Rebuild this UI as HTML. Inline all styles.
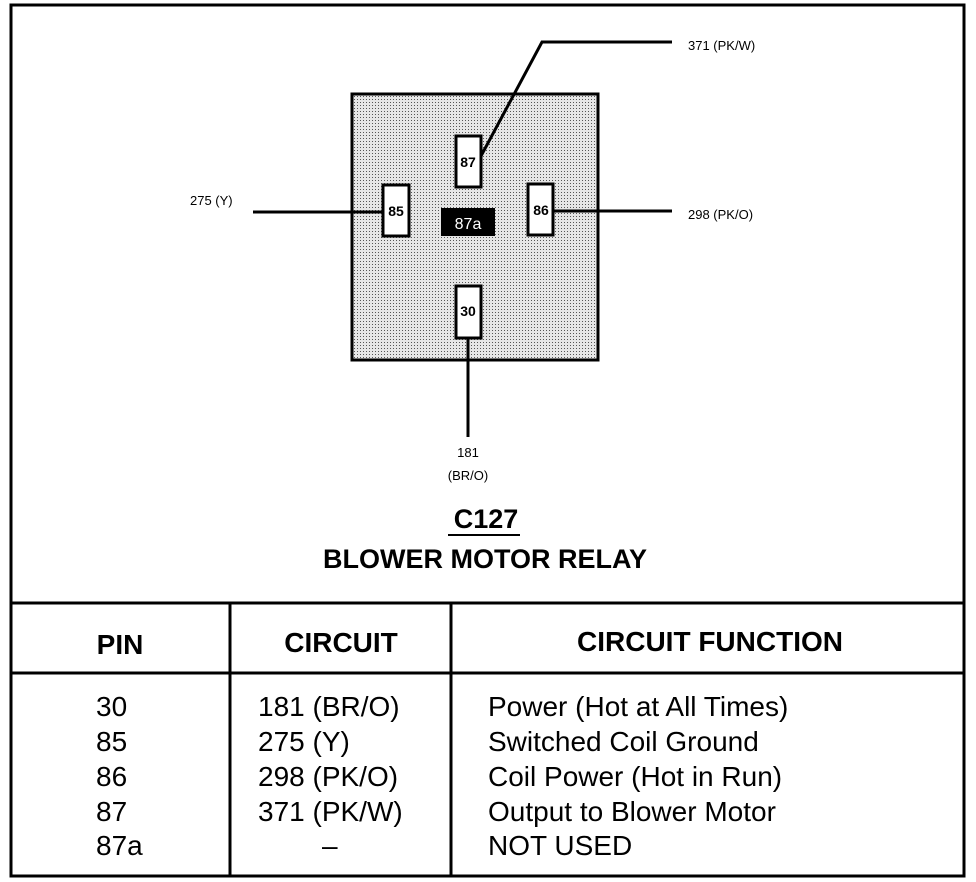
<!DOCTYPE html>
<html><head><style>body{margin:0;background:#fff}svg{display:block}</style></head>
<body>
<svg width="976" height="882" xmlns="http://www.w3.org/2000/svg" font-family="Liberation Sans, Arial, sans-serif">
<defs><pattern id="d" width="3" height="3" patternUnits="userSpaceOnUse"><rect width="3" height="3" fill="#e6e6e6"/><rect width="1" height="1" fill="#555"/></pattern></defs>
<rect x="11" y="5" width="953" height="871" fill="none" stroke="#000" stroke-width="3"/>
<rect x="352" y="94" width="246" height="266" fill="url(#d)" stroke="#000" stroke-width="3"/>
<g stroke="#000" stroke-width="3" fill="none">
<polyline points="481,156 542,42 672,42"/>
<line x1="253" y1="212" x2="382" y2="212"/>
<line x1="553" y1="211" x2="672" y2="211"/>
<line x1="468" y1="338" x2="468" y2="437"/>
</g>
<g fill="#fff" stroke="#000" stroke-width="3">
<rect x="456" y="136" width="25" height="51"/>
<rect x="383" y="185" width="26" height="51"/>
<rect x="528" y="184" width="25" height="51"/>
<rect x="456" y="286" width="25" height="52"/>
</g>
<rect x="441" y="208" width="54" height="28" fill="#000"/>
<g font-weight="bold" font-size="14" text-anchor="middle">
<text x="468" y="167">87</text><text x="396" y="216">85</text><text x="541" y="215">86</text><text x="468" y="316">30</text>
<text x="468" y="229" fill="#fff" font-weight="normal" font-size="16">87a</text>
</g>
<g font-size="13">
<text x="688" y="50">371 (PK/W)</text>
<text x="688" y="219">298 (PK/O)</text>
<text x="190" y="205">275 (Y)</text>
<text x="468" y="457" text-anchor="middle">181</text>
<text x="468" y="480" text-anchor="middle">(BR/O)</text>
</g>
<g font-weight="bold" text-anchor="middle">
<text x="486" y="528" font-size="27">C127</text>
<text x="485" y="568" font-size="27">BLOWER MOTOR RELAY</text>
</g>
<line x1="448" y1="535" x2="520" y2="535" stroke="#000" stroke-width="2"/>
<g stroke="#000" stroke-width="3">
<line x1="11" y1="603" x2="964" y2="603"/>
<line x1="11" y1="673" x2="964" y2="673"/>
<line x1="230" y1="603" x2="230" y2="876"/>
<line x1="451" y1="603" x2="451" y2="876"/>
</g>
<g font-weight="bold" font-size="28" text-anchor="middle">
<text x="120" y="654">PIN</text><text x="341" y="652">CIRCUIT</text><text x="710" y="651">CIRCUIT FUNCTION</text>
</g>
<g font-size="28">
<text x="96" y="716">30</text><text x="96" y="751">85</text><text x="96" y="786">86</text><text x="96" y="821">87</text><text x="96" y="855">87a</text>
<text x="258" y="716">181 (BR/O)</text><text x="258" y="751">275 (Y)</text><text x="258" y="786">298 (PK/O)</text><text x="258" y="821">371 (PK/W)</text><text x="322" y="855">–</text>
<text x="488" y="716">Power (Hot at All Times)</text><text x="488" y="751">Switched Coil Ground</text><text x="488" y="786">Coil Power (Hot in Run)</text><text x="488" y="821">Output to Blower Motor</text><text x="488" y="855">NOT USED</text>
</g>
</svg>
</body></html>
